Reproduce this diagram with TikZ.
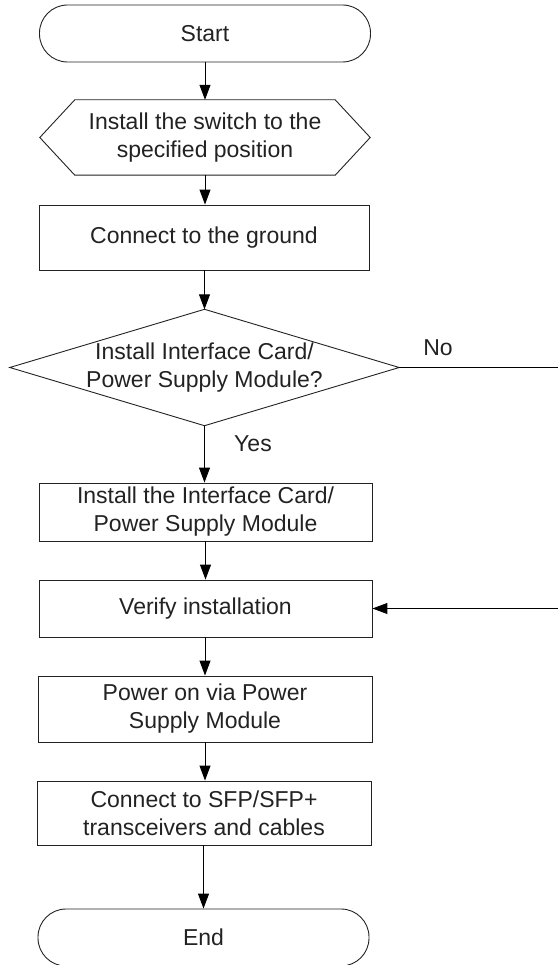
\documentclass[tikz,border=0pt]{standalone}
\usepackage{fontspec}
\setmainfont{Liberation Sans}
\usetikzlibrary{arrows.meta}
\definecolor{ink}{HTML}{222222}
\begin{document}
\begin{tikzpicture}[x=1pt,y=-1pt,
  every node/.style={font=\fontsize{23}{28}\selectfont, text=ink, align=center, inner sep=0pt},
  procbox/.style={draw=ink, line width=0.9pt, minimum width=333pt},
  termbox/.style={draw=ink, line width=0.9pt, rounded corners=28pt, minimum width=331pt, minimum height=57pt},
  flow/.style={draw=black, line width=1pt, -{Triangle[length=15pt,width=11pt]}},
  outline/.style={draw=ink, line width=0.9pt}]
\useasboundingbox (0,0) rectangle (557,965);
\node[termbox] (start) at (205,33.5) {Start};
\node[minimum width=330pt, minimum height=75pt] (hex) at (205,137.5) {Install the switch to the\\specified position};
\draw[outline] (hex.west) -- ([xshift=35pt]hex.north west) -- ([xshift=-35pt]hex.north east) -- (hex.east) -- ([xshift=-35pt]hex.south east) -- ([xshift=35pt]hex.south west) -- cycle;
\node[procbox, minimum width=330pt, minimum height=65pt] (ground) at (204,237.5) {Connect to the ground};
\node[minimum width=389pt, minimum height=116pt] (dia) at (204.5,367.5) {Install Interface Card/\\Power Supply Module?};
\draw[outline] (dia.west) -- (dia.north) -- (dia.east) -- (dia.south) -- cycle;
\node[procbox, minimum height=58pt] (card) at (205.5,512) {Install the Interface Card/\\Power Supply Module};
\node[procbox, minimum height=57pt] (verify) at (205.5,608.5) {Verify installation};
\node[procbox, minimum width=334pt, minimum height=66pt] (power) at (205,709) {Power on via Power\\Supply Module};
\node[procbox, minimum width=334pt, minimum height=64pt] (sfp) at (204,813) {Connect to SFP/SFP+\\transceivers and cables};
\node[termbox] (end) at (203.5,937.5) {End};
\node (no) at (438,348) {No};
\node (yes) at (253,444) {Yes};
\coordinate (rt) at (570,367.5);
\draw[flow] (start.south) -- (start.south |- hex.north);
\draw[flow] (hex.south) -- (hex.south |- ground.north);
\draw[flow] (dia.north |- ground.south) -- (dia.north);
\draw[flow] (dia.south) -- (dia.south |- card.north);
\draw[flow] (verify.north |- card.south) -- (verify.north);
\draw[flow] (power.north |- verify.south) -- (power.north);
\draw[flow] (power.south) -- (power.south |- sfp.north);
\draw[flow] (end.north |- sfp.south) -- (end.north);
\draw[flow] (dia.east) -- (rt) |- (verify.east);
\end{tikzpicture}
\end{document}
